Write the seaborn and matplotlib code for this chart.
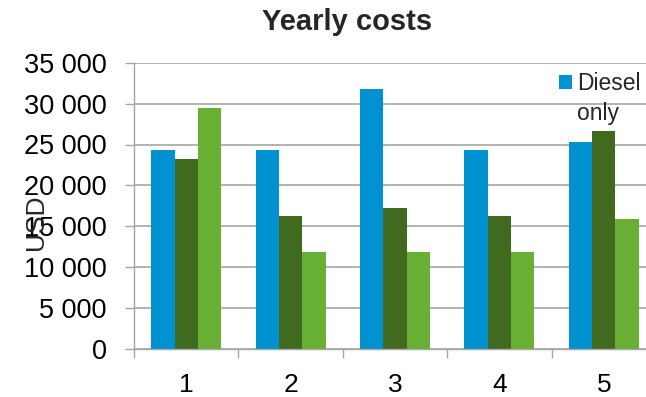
import matplotlib
matplotlib.use("Agg")
import matplotlib.pyplot as plt
import matplotlib.patches as mpatches
from matplotlib.ticker import FixedLocator, FuncFormatter
import seaborn as sns
import pandas as pd

# ---- data ----
title = "Yearly costs"
y_label = "USD"
scenarios = ["1", "2", "3", "4", "5"]
series_names = ["Diesel only", "Series 2", "Series 3"]
diesel_only = [24300, 24300, 31800, 24300, 25300]
series_2 = [23200, 16200, 17200, 16200, 26700]
series_3 = [29500, 11900, 11900, 11900, 15900]
colors = ["#0091D0", "#3F6A20", "#67B034"]
y_ticks = [0, 5000, 10000, 15000, 20000, 25000, 30000, 35000]

rows = []
for name, vals in zip(series_names, [diesel_only, series_2, series_3]):
    for s, v in zip(scenarios, vals):
        rows.append({"scenario": s, "series": name, "cost": v})
df = pd.DataFrame(rows)

sns.set_style("white")
plt.rcParams["font.family"] = ["Liberation Sans", "DejaVu Sans"]

W, H = 646, 397
fig = plt.figure(figsize=(W / 100, H / 100), dpi=100)
ax = fig.add_axes([134 / W, 1 - 349 / H, 522 / W, (349 - 62.7) / H])

sns.barplot(data=df, x="scenario", y="cost", hue="series", order=scenarios,
            hue_order=series_names, palette=colors, width=0.67, saturation=1,
            linewidth=0, legend=False, ax=ax)

grid_col = "#A6A6A6"
ax.set_xlim(-0.5, len(scenarios) - 0.5)
ax.set_ylim(y_ticks[0], y_ticks[-1])
ax.yaxis.set_major_locator(FixedLocator(y_ticks))
ax.yaxis.set_major_formatter(FuncFormatter(lambda v, p: f"{int(v):,}".replace(",", " ")))
ax.set_axisbelow(True)
ax.yaxis.grid(True, color=grid_col, linewidth=1.2)
ax.xaxis.grid(False)

for side in ["top", "right"]:
    ax.spines[side].set_visible(False)
for side in ["left", "bottom"]:
    ax.spines[side].set_color(grid_col)
    ax.spines[side].set_linewidth(1.0)

ax.tick_params(axis="y", which="major", direction="out", length=6.5, width=1.0,
               color=grid_col, pad=13, labelsize=19.5, labelcolor="black", left=True)
ax.tick_params(axis="x", which="major", length=0, pad=17, labelsize=19, labelcolor="black")
ax.xaxis.set_minor_locator(FixedLocator([i - 0.5 for i in range(len(scenarios) + 1)]))
ax.tick_params(axis="x", which="minor", direction="out", length=6.5, width=1.0,
               color=grid_col, bottom=True)

ax.set_xlabel("")
ax.set_ylabel(y_label, fontsize=19, va="center")
ax.yaxis.set_label_coords((35.6 - 134) / 522, (349 - 222) / (349 - 62.7))

fig.text(347.2 / W, 1 - 30 / H, title, ha="center", va="baseline",
         fontsize=21, fontweight="bold")

# legend (only the first series is visible, wrapped over two lines)
words = series_names[0].split()
handles = [mpatches.Patch(facecolor=colors[0], edgecolor="none")]
handles += [mpatches.Patch(facecolor="none", edgecolor="none") for _ in words[1:]]
ax.legend(handles, words, loc="upper left",
          bbox_to_anchor=(559 / W, 1 - 72.5 / H), bbox_transform=fig.transFigure,
          frameon=False, fontsize=16.5, borderpad=0, borderaxespad=0,
          handlelength=0.555, handleheight=0.555, handletextpad=0.22,
          labelspacing=0.3)

fig.savefig("out.png", dpi=100)
